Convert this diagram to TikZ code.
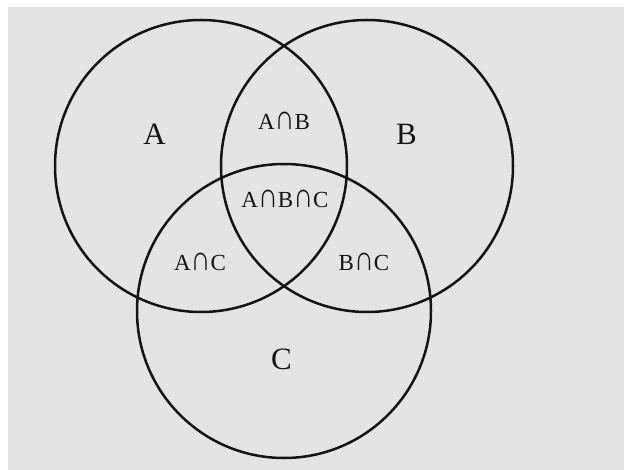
\documentclass[tikz,border=0pt]{standalone}
\usepackage{fontspec}
\setmainfont{Liberation Serif}
\usepackage{xcolor,graphicx}
\definecolor{vnback}{RGB}{228,228,228}
\definecolor{vnline}{RGB}{20,20,20}
\usetikzlibrary{positioning}
\newcommand{\vnmeet}{\scalebox{1.2}[1.5]{∩}}

\begin{document}
\begin{tikzpicture}[x=1pt,y=-1pt,
    setcirc/.style={draw=vnline,circle,line width=2.5pt,inner sep=0pt,minimum size=292pt},
    setname/.style={font=\fontsize{31}{31}\selectfont,text=vnline},
    partname/.style={font=\fontsize{23}{23}\selectfont,text=vnline,inner sep=1pt}]
  %% Frame and background
  \useasboundingbox (0,0) rectangle (624,470);
  \fill[white] (0,0) rectangle (624,470);
  \fill[vnback] (8,7) rectangle (624,470);

  %% The three sets
  \node[setcirc] (circA) at (201,166) {};
  \node[setcirc] (circB) at (367,166) {};
  \node[setcirc,minimum size=294pt] (circC) at (284,311) {};

  %% Set names
  \node[setname] (nameA) at (154.5,134) {A};
  \node[setname] (nameB) at (406.5,134.5) {B};
  \node[setname] (nameC) at (281.5,359) {C};

  %% Intersections
  \node[partname] (partAB)  at (284,121) {A\vnmeet B};
  \node[partname] (partABC) at (285,199) {A\vnmeet B\vnmeet C};
  \node[partname] (partAC)  at (200,262) {A\vnmeet C};
  \node[partname] (partBC)  at (364,262) {B\vnmeet C};
\end{tikzpicture}
\end{document}
